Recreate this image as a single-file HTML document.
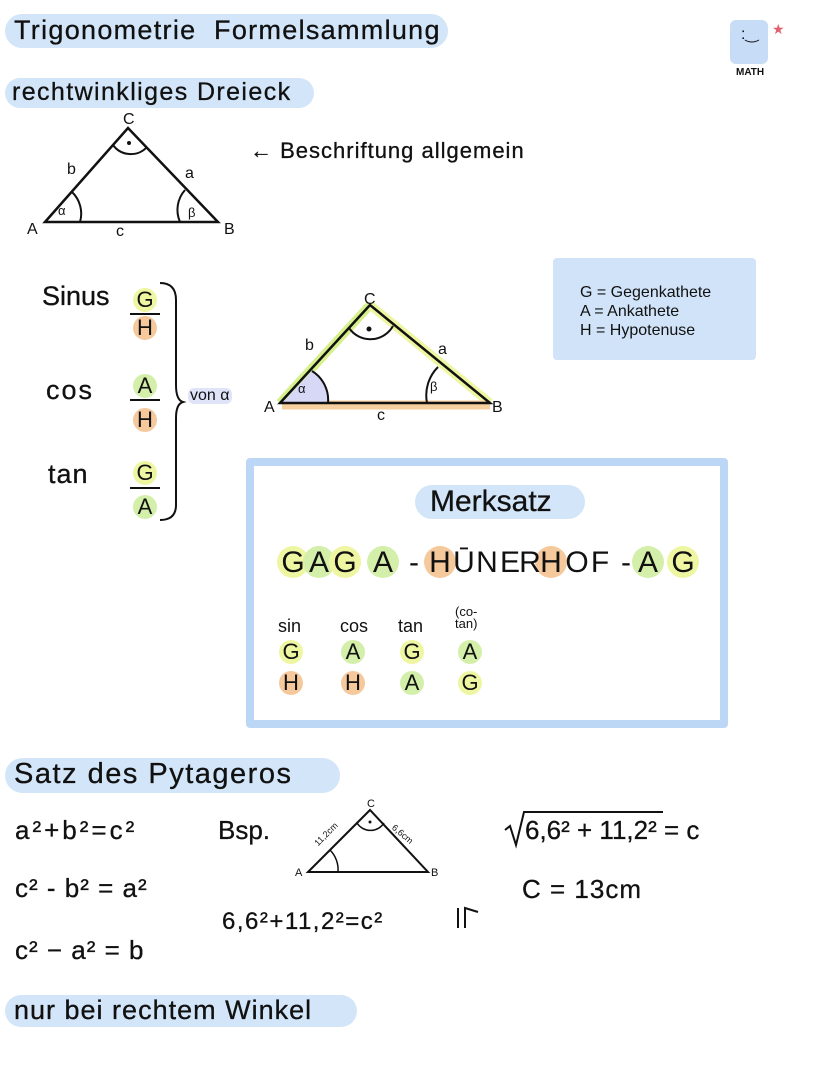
<!DOCTYPE html>
<html><head><meta charset="utf-8"><style>
body{margin:0;width:828px;height:1070px;background:#fff;position:relative;overflow:hidden;font-family:"Liberation Sans",sans-serif;color:#111}
.a{position:absolute;white-space:nowrap;line-height:1}
.pill{position:absolute;background:#d3e5f8;border-radius:18px}
.c{position:absolute;width:24px;height:24px;border-radius:50%}
.y{background:#eef6a2}.g{background:#d4efa9}.o{background:#f5c99c}
.L{position:absolute;font-size:22px;width:24px;text-align:center;line-height:24px}
.t{-webkit-text-stroke:0.3px #111;font-weight:normal}
.B{position:absolute;width:32px;height:32px;border-radius:50%;top:546px}
.M{position:absolute;top:548px;width:30px;margin-left:-15px;text-align:center;font-size:30px;line-height:30px}
</style></head><body>

<div class="pill" style="left:5px;top:14px;width:443px;height:34px"></div>
<div class="a t" style="left:14px;top:17px;font-size:27px;letter-spacing:1.3px">Trigonometrie&nbsp; Formelsammlung</div>
<div class="pill" style="left:5px;top:78px;width:309px;height:30px"></div>
<div class="a t" style="left:12px;top:80px;font-size:25px;letter-spacing:1.4px">rechtwinkliges Dreieck</div>

<div style="position:absolute;left:730px;top:20px;width:38px;height:44px;background:#c7dcf6;border-radius:6px"></div>
<div class="a" style="left:741px;top:27px;font-size:16px">:‿</div>
<div class="a" style="left:772px;top:22px;font-size:14px;color:#e06070">★</div>
<div class="a" style="left:736px;top:68px;font-size:10px;font-weight:bold">MATH</div>

<svg width="828" height="1070" style="position:absolute;left:0;top:0">
 <polygon points="45,222 128,128 218,222" fill="none" stroke="#111" stroke-width="2.5"/>
 <path d="M72,192 A30,30 0 0 1 80,222" fill="none" stroke="#111" stroke-width="2"/>
 <path d="M185,190 A30,30 0 0 0 180,222" fill="none" stroke="#111" stroke-width="2"/>
 <path d="M113,145 A22,22 0 0 0 147,147" fill="none" stroke="#111" stroke-width="2"/>
 <circle cx="129" cy="143" r="2" fill="#111"/>
 <line x1="280" y1="403" x2="370" y2="305" stroke="#d6f08a" stroke-width="9"/>
 <line x1="370" y1="305" x2="490" y2="403" stroke="#eef6a2" stroke-width="9"/>
 <line x1="282" y1="405" x2="490" y2="405" stroke="#f5cf9e" stroke-width="9"/>
 <path d="M282,403 L312,371 A34,34 0 0 1 328,403 Z" fill="#d6d8f6"/>
 <polygon points="280,403 370,305 490,403" fill="none" stroke="#111" stroke-width="2.5"/>
 <path d="M312,371 A34,34 0 0 1 328,403" fill="none" stroke="#111" stroke-width="2"/>
 <path d="M438,367 A40,40 0 0 0 427,403" fill="none" stroke="#111" stroke-width="2"/>
 <path d="M349,328 A26,26 0 0 0 393,326" fill="none" stroke="#111" stroke-width="2"/>
 <circle cx="369" cy="329" r="2.5" fill="#111"/>
 <path d="M160,283 Q176,283 176,300 L176,385 Q176,400 183,402 Q176,404 176,418 L176,505 Q176,520 160,520" fill="none" stroke="#111" stroke-width="2"/>
 <line x1="130" y1="314" x2="160" y2="314" stroke="#111" stroke-width="2"/>
 <line x1="130" y1="400" x2="160" y2="400" stroke="#111" stroke-width="2"/>
 <line x1="130" y1="488" x2="160" y2="488" stroke="#111" stroke-width="2"/>
 <polygon points="308,872 370,810 428,872" fill="none" stroke="#111" stroke-width="2"/>
 <path d="M330,850 A28,28 0 0 1 338,872" fill="none" stroke="#111" stroke-width="1.5"/>
 <path d="M357,823 A16,16 0 0 0 384,823" fill="none" stroke="#111" stroke-width="1.5"/>
 <circle cx="370" cy="822" r="1.5" fill="#111"/>
 <path d="M505,830 L510,826 L516,845 L524,812 L663,812" fill="none" stroke="#111" stroke-width="2"/>
 <path d="M458,908 L458,928 M465,928 L465,908 L478,912" fill="none" stroke="#111" stroke-width="2"/>
</svg>

<div class="a" style="left:27px;top:222px;font-size:16px">A</div>
<div class="a" style="left:123px;top:112px;font-size:16px">C</div>
<div class="a" style="left:224px;top:222px;font-size:16px">B</div>
<div class="a" style="left:67px;top:162px;font-size:16px">b</div>
<div class="a" style="left:185px;top:166px;font-size:16px">a</div>
<div class="a" style="left:116px;top:224px;font-size:16px">c</div>
<div class="a" style="left:58px;top:204px;font-size:13px">α</div>
<div class="a" style="left:188px;top:206px;font-size:13px">β</div>
<div class="a t" style="left:250px;top:140px;font-size:22px;letter-spacing:1px">← Beschriftung allgemein</div>

<div class="a t" style="left:42px;top:283px;font-size:27px">Sinus</div>
<div class="a t" style="left:46px;top:377px;font-size:27px;letter-spacing:2px">cos</div>
<div class="a t" style="left:48px;top:461px;font-size:27px;letter-spacing:1px">tan</div>
<div class="c y" style="left:133px;top:288px"></div><div class="L" style="left:133px;top:288px">G</div>
<div class="c o" style="left:133px;top:316px"></div><div class="L" style="left:133px;top:316px">H</div>
<div class="c g" style="left:133px;top:374px"></div><div class="L" style="left:133px;top:374px">A</div>
<div class="c o" style="left:133px;top:408px"></div><div class="L" style="left:133px;top:408px">H</div>
<div class="c y" style="left:133px;top:461px"></div><div class="L" style="left:133px;top:461px">G</div>
<div class="c g" style="left:133px;top:495px"></div><div class="L" style="left:133px;top:495px">A</div>
<div class="a" style="left:188px;top:388px;font-size:16px;background:#dfe4f8;border-radius:6px;padding:0 2px">von α</div>

<div class="a" style="left:264px;top:400px;font-size:16px">A</div>
<div class="a" style="left:364px;top:292px;font-size:16px">C</div>
<div class="a" style="left:492px;top:400px;font-size:16px">B</div>
<div class="a" style="left:305px;top:338px;font-size:16px">b</div>
<div class="a" style="left:438px;top:342px;font-size:16px">a</div>
<div class="a" style="left:377px;top:408px;font-size:16px">c</div>
<div class="a" style="left:298px;top:382px;font-size:13px">α</div>
<div class="a" style="left:430px;top:380px;font-size:13px">β</div>

<div style="position:absolute;left:553px;top:258px;width:203px;height:102px;background:#d0e3f8;border-radius:4px"></div>
<div class="a" style="left:580px;top:283px;font-size:16px;line-height:19px">G = Gegenkathete<br>A = Ankathete<br>H = Hypotenuse</div>

<div style="position:absolute;left:246px;top:458px;width:466px;height:254px;border:8px solid #bcd7f5;border-radius:4px"></div>
<div class="pill" style="left:415px;top:485px;width:170px;height:34px"></div>
<div class="a t" style="left:430px;top:487px;font-size:30px">Merksatz</div>

<div class="B y" style="left:277px"></div>
<div class="B g" style="left:303px"></div>
<div class="B y" style="left:329px"></div>
<div class="B g" style="left:367px"></div>
<div class="B o" style="left:424px"></div>
<div class="B o" style="left:535px"></div>
<div class="B g" style="left:632px"></div>
<div class="B y" style="left:667px"></div>
<div class="M" style="left:293px">G</div>
<div class="M" style="left:319px">A</div>
<div class="M" style="left:345px">G</div>
<div class="M" style="left:383px">A</div>
<div class="M" style="left:414px">-</div>
<div class="M" style="left:440px">H</div>
<div class="M" style="left:464px">Ū</div>
<div class="M" style="left:487px">N</div>
<div class="M" style="left:510px">E</div>
<div class="M" style="left:530px">R</div>
<div class="M" style="left:551px">H</div>
<div class="M" style="left:577px">O</div>
<div class="M" style="left:600px">F</div>
<div class="M" style="left:626px">-</div>
<div class="M" style="left:648px">A</div>
<div class="M" style="left:683px">G</div>

<div class="a" style="left:278px;top:617px;font-size:18px">sin</div>
<div class="a" style="left:340px;top:617px;font-size:18px">cos</div>
<div class="a" style="left:398px;top:617px;font-size:18px">tan</div>
<div class="a" style="left:455px;top:606px;font-size:13px;line-height:12px;text-align:center">(co-<br>tan)</div>
<div class="c y" style="left:279px;top:640px"></div><div class="L" style="left:279px;top:640px">G</div>
<div class="c g" style="left:341px;top:640px"></div><div class="L" style="left:341px;top:640px">A</div>
<div class="c y" style="left:400px;top:640px"></div><div class="L" style="left:400px;top:640px">G</div>
<div class="c g" style="left:458px;top:640px"></div><div class="L" style="left:458px;top:640px">A</div>
<div class="c o" style="left:279px;top:671px"></div><div class="L" style="left:279px;top:671px">H</div>
<div class="c o" style="left:341px;top:671px"></div><div class="L" style="left:341px;top:671px">H</div>
<div class="c g" style="left:400px;top:671px"></div><div class="L" style="left:400px;top:671px">A</div>
<div class="c y" style="left:458px;top:671px"></div><div class="L" style="left:458px;top:671px">G</div>

<div class="pill" style="left:5px;top:758px;width:335px;height:35px"></div>
<div class="a t" style="left:14px;top:760px;font-size:29px;letter-spacing:1.5px">Satz des Pytageros</div>
<div class="a t" style="left:15px;top:817px;font-size:26px;letter-spacing:3px">a²+b²=c²</div>
<div class="a t" style="left:15px;top:875px;font-size:26px;letter-spacing:1px">c² - b² = a²</div>
<div class="a t" style="left:15px;top:937px;font-size:26px;letter-spacing:1px">c² − a² = b</div>
<div class="a t" style="left:218px;top:817px;font-size:26px">Bsp.</div>
<div class="a" style="left:295px;top:868px;font-size:11px">A</div>
<div class="a" style="left:367px;top:799px;font-size:11px">C</div>
<div class="a" style="left:431px;top:868px;font-size:11px">B</div>
<div class="a" style="left:312px;top:830px;font-size:9px;transform:rotate(-45deg)">11,2cm</div>
<div class="a" style="left:390px;top:830px;font-size:9px;transform:rotate(40deg)">6,6cm</div>
<div class="a t" style="left:222px;top:910px;font-size:24px;letter-spacing:1.5px">6,6²+11,2²=c²</div>
<div class="a t" style="left:525px;top:817px;font-size:26px">6,6² + 11,2² = c</div>
<div class="a t" style="left:522px;top:876px;font-size:26px;letter-spacing:1px">C = 13cm</div>

<div class="pill" style="left:5px;top:995px;width:352px;height:32px"></div>
<div class="a t" style="left:14px;top:997px;font-size:27px;letter-spacing:1px">nur bei rechtem Winkel</div>
</body></html>
